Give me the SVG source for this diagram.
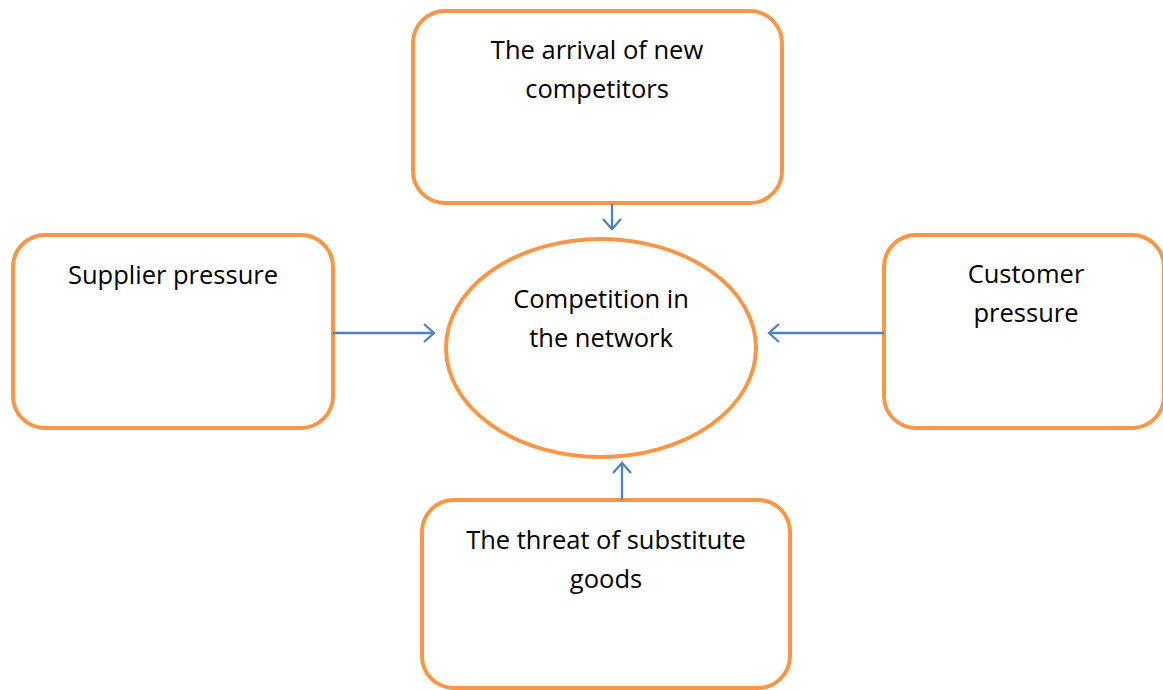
<svg xmlns="http://www.w3.org/2000/svg" width="1163" height="690" viewBox="0 0 1163 690">
<defs>
<style>
.box{fill:#fff;stroke:#F79646;stroke-width:4}
.t{font-family:"Open Sans","Liberation Sans",sans-serif;font-size:25.5px;fill:#000;text-anchor:middle}
.c{stroke:#4F81BD;stroke-width:2.3;fill:none}
</style>
<marker id="ah" markerWidth="14" markerHeight="22" refX="12" refY="11" orient="auto" markerUnits="userSpaceOnUse">
<path d="M2,2 L12,11 L2,20" fill="none" stroke="#4F81BD" stroke-width="2.3"/>
</marker>
</defs>
<rect width="1163" height="690" fill="#fff"/>
<g id="top">
<rect class="box" x="413" y="11" width="369" height="192" rx="32"/>
<text class="t" x="597" y="59">The arrival of new</text>
<text class="t" x="597" y="98">competitors</text>
</g>
<g id="left">
<rect class="box" x="13" y="235" width="320" height="193" rx="32"/>
<text class="t" x="173" y="284">Supplier pressure</text>
</g>
<g id="right">
<rect class="box" x="884" y="235" width="280" height="193" rx="32"/>
<text class="t" x="1026" y="283">Customer</text>
<text class="t" x="1026" y="322">pressure</text>
</g>
<g id="bottom">
<rect class="box" x="422" y="500" width="368" height="188" rx="32"/>
<text class="t" x="606" y="549">The threat of substitute</text>
<text class="t" x="606" y="588">goods</text>
</g>
<g id="center">
<ellipse class="box" cx="601" cy="348" rx="155" ry="109"/>
<text class="t" x="601" y="308">Competition in</text>
<text class="t" x="601" y="347">the network</text>
</g>
<g id="connectors">
<line class="c" x1="612" y1="204" x2="612" y2="229" marker-end="url(#ah)"/>
<line class="c" x1="333" y1="333" x2="434" y2="333" marker-end="url(#ah)"/>
<line class="c" x1="884" y1="333" x2="769" y2="333" marker-end="url(#ah)"/>
<line class="c" x1="622" y1="500" x2="622" y2="463" marker-end="url(#ah)"/>
</g>
</svg>
